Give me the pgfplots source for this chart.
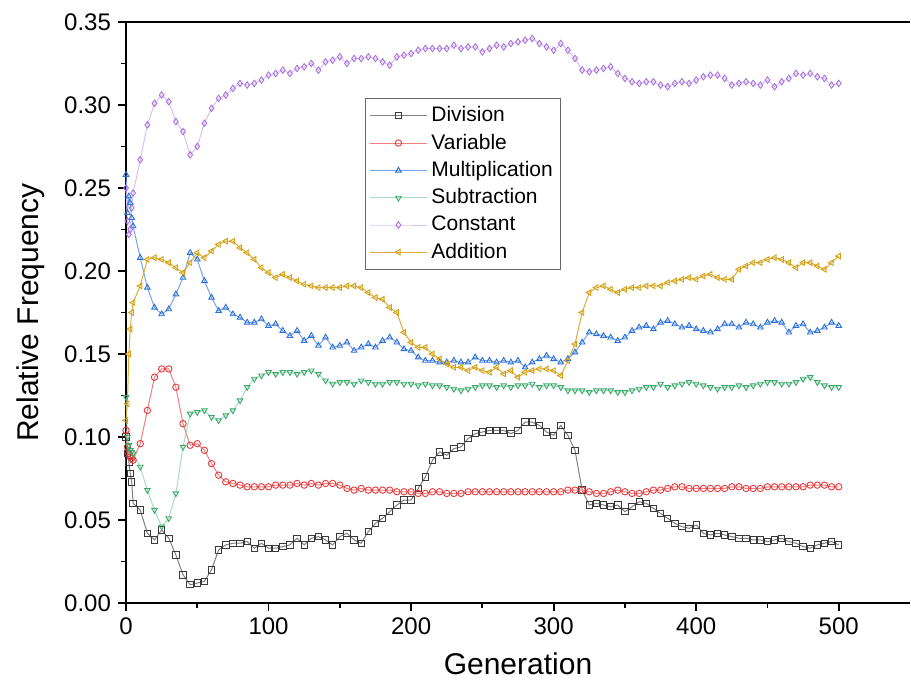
\documentclass[border=0pt]{standalone}
\usepackage{fontspec}
\setmainfont{Liberation Sans}
\usepackage{pgfplots}
\usepackage{pgfplotstable}
\pgfplotsset{compat=1.18}
\definecolor{cDiv}{HTML}{3A3A3A}
\definecolor{cDivL}{HTML}{808080}
\definecolor{cVar}{HTML}{E8383A}
\definecolor{cVarL}{HTML}{F07F80}
\definecolor{cMul}{HTML}{2B6FD8}
\definecolor{cMulL}{HTML}{76A3EA}
\definecolor{cSub}{HTML}{3AA86A}
\definecolor{cSubL}{HTML}{A8DCC0}
\definecolor{cCon}{HTML}{A870E0}
\definecolor{cConL}{HTML}{D8BFF2}
\definecolor{cAdd}{HTML}{D4A010}
\definecolor{cAddL}{HTML}{D9AE3A}
\pgfplotstableread{
x div var mul sub con add
0 0.100 0.104 0.258 0.124 0.250 0.110
1 0.090 0.094 0.235 0.100 0.230 0.120
2 0.085 0.090 0.245 0.095 0.222 0.150
3 0.078 0.088 0.241 0.092 0.225 0.165
4 0.073 0.087 0.232 0.091 0.238 0.175
5 0.060 0.086 0.227 0.090 0.247 0.181
10 0.056 0.096 0.208 0.082 0.267 0.191
15 0.042 0.116 0.190 0.068 0.288 0.207
20 0.038 0.136 0.178 0.056 0.301 0.208
25 0.044 0.141 0.174 0.046 0.306 0.207
30 0.039 0.141 0.177 0.051 0.302 0.205
35 0.029 0.130 0.186 0.066 0.290 0.202
40 0.017 0.108 0.196 0.094 0.284 0.199
45 0.011 0.095 0.211 0.114 0.270 0.205
50 0.012 0.096 0.207 0.115 0.275 0.211
55 0.013 0.092 0.194 0.116 0.289 0.208
60 0.020 0.084 0.184 0.112 0.298 0.212
65 0.032 0.077 0.176 0.110 0.304 0.216
70 0.035 0.073 0.178 0.113 0.306 0.218
75 0.036 0.072 0.174 0.116 0.310 0.218
80 0.036 0.071 0.172 0.122 0.313 0.214
85 0.037 0.070 0.169 0.130 0.312 0.211
90 0.033 0.070 0.169 0.135 0.313 0.207
95 0.036 0.070 0.171 0.137 0.315 0.202
100 0.033 0.070 0.167 0.139 0.318 0.199
105 0.033 0.071 0.168 0.138 0.319 0.196
110 0.034 0.071 0.164 0.139 0.321 0.198
115 0.035 0.071 0.161 0.139 0.319 0.196
120 0.039 0.072 0.164 0.138 0.322 0.194
125 0.035 0.071 0.158 0.139 0.323 0.192
130 0.039 0.072 0.161 0.140 0.325 0.191
135 0.040 0.071 0.155 0.138 0.321 0.190
140 0.038 0.072 0.160 0.134 0.326 0.190
145 0.035 0.072 0.154 0.132 0.327 0.190
150 0.040 0.071 0.155 0.133 0.329 0.190
155 0.042 0.069 0.157 0.133 0.325 0.191
160 0.038 0.068 0.152 0.132 0.328 0.191
165 0.036 0.069 0.154 0.134 0.328 0.190
170 0.043 0.068 0.156 0.133 0.329 0.187
175 0.048 0.068 0.154 0.132 0.328 0.184
180 0.051 0.068 0.158 0.132 0.326 0.183
185 0.055 0.068 0.160 0.133 0.324 0.178
190 0.059 0.067 0.157 0.133 0.329 0.175
195 0.062 0.067 0.153 0.132 0.330 0.163
200 0.062 0.067 0.152 0.132 0.331 0.157
205 0.069 0.066 0.148 0.131 0.333 0.154
210 0.076 0.066 0.146 0.132 0.334 0.154
215 0.086 0.067 0.146 0.131 0.334 0.150
220 0.091 0.067 0.145 0.131 0.334 0.147
225 0.089 0.066 0.145 0.130 0.334 0.144
230 0.093 0.066 0.146 0.129 0.336 0.142
235 0.094 0.066 0.145 0.128 0.334 0.142
240 0.099 0.067 0.145 0.129 0.335 0.140
245 0.102 0.067 0.148 0.130 0.335 0.142
250 0.103 0.067 0.146 0.131 0.332 0.140
255 0.104 0.067 0.146 0.131 0.334 0.139
260 0.104 0.067 0.145 0.130 0.336 0.142
265 0.104 0.067 0.146 0.131 0.335 0.138
270 0.102 0.067 0.145 0.130 0.337 0.140
275 0.104 0.067 0.146 0.131 0.338 0.136
280 0.109 0.067 0.142 0.131 0.339 0.139
285 0.109 0.067 0.145 0.132 0.340 0.140
290 0.107 0.067 0.147 0.130 0.337 0.141
295 0.103 0.067 0.149 0.131 0.335 0.141
300 0.101 0.067 0.147 0.131 0.333 0.140
305 0.107 0.067 0.145 0.130 0.337 0.137
310 0.101 0.068 0.147 0.128 0.333 0.146
315 0.092 0.068 0.151 0.128 0.328 0.156
320 0.068 0.068 0.157 0.128 0.321 0.175
325 0.059 0.067 0.163 0.127 0.320 0.187
330 0.060 0.066 0.162 0.128 0.321 0.190
335 0.059 0.066 0.161 0.128 0.322 0.191
340 0.058 0.067 0.160 0.128 0.323 0.189
345 0.059 0.068 0.158 0.127 0.319 0.187
350 0.055 0.067 0.160 0.127 0.316 0.189
355 0.058 0.066 0.164 0.128 0.314 0.190
360 0.061 0.066 0.166 0.129 0.313 0.190
365 0.060 0.067 0.167 0.130 0.314 0.191
370 0.057 0.068 0.165 0.130 0.314 0.191
375 0.054 0.068 0.169 0.132 0.312 0.191
380 0.051 0.069 0.170 0.130 0.311 0.193
385 0.048 0.070 0.168 0.131 0.313 0.194
390 0.046 0.070 0.166 0.132 0.314 0.195
395 0.045 0.069 0.167 0.133 0.313 0.196
400 0.047 0.069 0.165 0.132 0.315 0.195
405 0.042 0.069 0.164 0.131 0.317 0.197
410 0.041 0.069 0.163 0.130 0.318 0.198
415 0.042 0.069 0.165 0.129 0.318 0.196
420 0.041 0.069 0.168 0.130 0.316 0.195
425 0.040 0.070 0.168 0.130 0.312 0.195
430 0.039 0.070 0.166 0.131 0.313 0.201
435 0.039 0.069 0.169 0.130 0.314 0.203
440 0.038 0.069 0.168 0.131 0.313 0.205
445 0.038 0.069 0.166 0.132 0.312 0.205
450 0.037 0.070 0.169 0.133 0.315 0.207
455 0.038 0.070 0.170 0.133 0.311 0.208
460 0.039 0.070 0.169 0.132 0.314 0.207
465 0.037 0.070 0.163 0.132 0.316 0.205
470 0.036 0.070 0.167 0.133 0.319 0.202
475 0.034 0.070 0.168 0.135 0.318 0.205
480 0.033 0.071 0.163 0.136 0.319 0.205
485 0.035 0.071 0.164 0.133 0.317 0.203
490 0.036 0.071 0.166 0.131 0.316 0.201
495 0.037 0.070 0.169 0.130 0.312 0.205
500 0.035 0.070 0.167 0.130 0.313 0.209
}\data
\begin{document}
\begin{tikzpicture}
\begin{axis}[
  scale only axis,
  width=392pt, height=290.5pt,
  xmin=0, xmax=550, ymin=0, ymax=0.35,
  axis x line=box, axis y line*=left,
  xtick pos=bottom, ytick pos=left,
  tick align=outside,
  xtick={0,100,...,500}, ytick={0,0.05,...,0.351},
  minor x tick num=1, minor y tick num=1,
  major tick length=4pt, minor tick length=2.5pt,
  every tick/.style={black, line width=0.9pt},
  axis line style={line width=1.1pt},
  /pgf/number format/assume math mode=true,
  yticklabel style={/pgf/number format/.cd, fixed, fixed zerofill, precision=2},
  ticklabel style={font=\fontsize{12}{14}\selectfont},
  xlabel={Generation}, ylabel={Relative Frequency},
  label style={font=\fontsize{15}{18}\selectfont},
  xlabel style={yshift=-2pt},
  ylabel style={yshift=3pt},
  legend cell align=left,
  legend style={at={(0.305,0.869)}, anchor=north west, draw=gray!80!black,
    font=\fontsize{10.5}{13}\selectfont, row sep=0.6pt, inner sep=2pt},
  legend image code/.code={\draw[mark repeat=2,mark phase=2,#1] plot coordinates {(0cm,0cm)(0.5cm,0cm)(1cm,0cm)};},
  every axis plot/.append style={line width=0.5pt, mark size=1.6pt},
]
\addplot[cDivL, mark=square, mark options={draw=cDiv, fill=white, line width=0.45pt}] table[x=x,y=div]{\data};
\addlegendentry{Division}
\addplot[cVarL, mark=o, mark options={draw=cVar, fill=white, line width=0.45pt}] table[x=x,y=var]{\data};
\addlegendentry{Variable}
\addplot[cMulL, mark=triangle, mark options={draw=cMul, fill=white, line width=0.45pt}] table[x=x,y=mul]{\data};
\addlegendentry{Multiplication}
\addplot[cSubL, mark=triangle, mark options={draw=cSub, fill=white, rotate=180, line width=0.45pt}] table[x=x,y=sub]{\data};
\addlegendentry{Subtraction}
\addplot[cConL, mark=diamond, mark options={draw=cCon, fill=white, line width=0.45pt}] table[x=x,y=con]{\data};
\addlegendentry{Constant}
\addplot[cAddL, mark=triangle, mark options={draw=cAdd, fill=white, rotate=90, line width=0.45pt}] table[x=x,y=add]{\data};
\addlegendentry{Addition}
\coordinate (O) at (rel axis cs:0,0);
\end{axis}
\pgfresetboundingbox
\path (O) ++(-63pt,-40.5pt) rectangle ++(455.5pt,342pt);
\end{tikzpicture}
\end{document}
